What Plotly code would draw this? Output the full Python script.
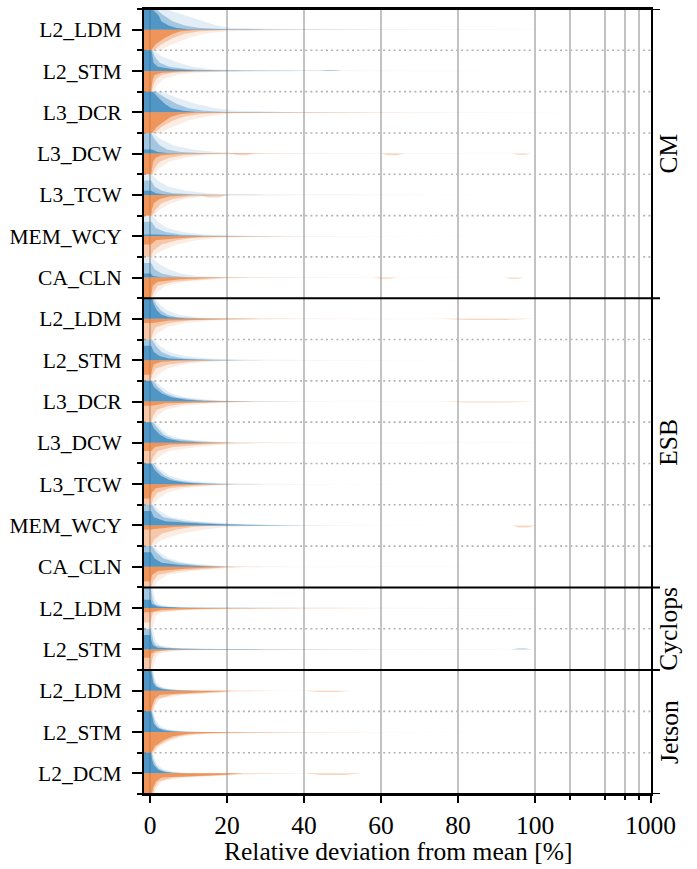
import math
import plotly.graph_objects as go

# ---------------------------------------------------------------------------
# Benchmarks (rows, top to bottom) and the platform group each belongs to
# ---------------------------------------------------------------------------
GROUPS = ["CM", "ESB", "Cyclops", "Jetson"]
GROUP_BENCHMARKS = [
    ["L2_LDM", "L2_STM", "L3_DCR", "L3_DCW", "L3_TCW", "MEM_WCY", "CA_CLN"],
    ["L2_LDM", "L2_STM", "L3_DCR", "L3_DCW", "L3_TCW", "MEM_WCY", "CA_CLN"],
    ["L2_LDM", "L2_STM"],
    ["L2_LDM", "L2_STM", "L2_DCM"],
]

# Density levels (fraction of the half-row height) at which each layer's
# outline is recorded; the last column is where the thin tail ends.
LEVELS = [1.0, 0.7, 0.4, 0.2, 0.08, 0.02, 0.0]

# Deviation [%] at which each layer's outline crosses LEVELS (None = never
# reaches that level). One row per benchmark, in plotting order.
BLUE_LIGHT = [
    [3.9, 8.7, 13.9, 17.3, 21, 35, 130],
    [1, 3, 7.5, 11, 16, 25, 120],
    [3, 7, 12, 17, 22, 35, 150],
    [0.8, 2.8, 6, 11, 17, 25, 110],
    [0.5, 2, 4.8, 9.5, 15, 22, 90],
    [0.6, 2, 4.5, 8.5, 14, 22, 60],
    [0.5, 2, 4.8, 8, 12, 20, 60],
    [1.2, 2.5, 4.5, 7.5, 12, 20, 60],
    [1, 2.5, 5, 9, 15, 24, 60],
    [1.2, 3, 5.5, 9, 15, 22, 50],
    [1.2, 2.8, 4.5, 8, 15, 22, 50],
    [1.2, 2.8, 5, 9, 15, 22, 50],
    [1, 2.5, 5.5, 12, 22, 35, 60],
    [1, 2.4, 5, 9, 15, 20, 40],
    [0.6, 0.9, 1.3, 2.2, 5, 15, 120],
    [0.6, 1, 1.5, 2.5, 6, 18, 130],
    [0.8, 1.1, 1.6, 2.8, 5, 10, 20],
    [0.8, 1.2, 2, 3.5, 6, 10, 18],
    [0.8, 1.2, 2, 3.5, 6, 10, 18],
]
BLUE_MID = [
    [1.5, 3.5, 6, 9, 13, 20, 60],
    [0.6, 1.2, 2.5, 5, 10, 18, 50],
    [1.5, 4, 7, 10, 14, 20, 60],
    [0.3, 1.2, 2.5, 4.5, 8, 14, 40],
    [None, 0.3, 1.2, 3, 6, 12, 30],
    [None, 0.4, 1.5, 4, 8, 14, 40],
    [None, 0.3, 1.2, 3, 6, 10, 30],
    [0.8, 1.6, 2.8, 4.5, 7, 14, 40],
    [0.5, 1.5, 3, 5.5, 9, 16, 30],
    [0.8, 2, 4, 7, 12, 18, 40],
    [0.8, 2, 3.5, 6, 12, 18, 30],
    [0.8, 2, 3.8, 6.5, 11, 18, 30],
    [0.5, 1.5, 3.5, 9, 18, 30, 45],
    [0.5, 1.6, 3.5, 7, 12, 17, 22],
    [0.2, 0.4, 0.7, 1.2, 3, 10, 60],
    [0.2, 0.5, 0.9, 1.5, 4, 14, 60],
    [0.5, 0.8, 1.2, 2, 4, 8, 15],
    [0.5, 0.9, 1.5, 2.5, 4.5, 8, 14],
    [0.5, 0.8, 1.5, 2.5, 4.5, 8, 14],
]
BLUE_DARK = [
    [0.5, 2.2, 3.0, 4.8, 6.9, 10, 30],
    [0.4, 0.6, 0.9, 2, 6, 12, 50],
    [0.8, 2.2, 3.9, 5.6, 8.7, 12, 40],
    [None, None, None, 0.5, 2, 5, 20],
    [None, None, None, 0.3, 1.5, 4, 15],
    [None, None, None, None, 2, 8, 25],
    [None, None, None, 0.2, 0.8, 3, 15],
    [0.5, 1, 1.8, 3, 5, 10, 30],
    [None, 0.3, 1, 2.5, 5, 12, 25],
    [0.3, 1, 3, 5.5, 9.5, 14, 30],
    [0.3, 1, 2.5, 4.5, 8, 14, 22],
    [0.3, 1.2, 2.8, 5, 9, 14, 22],
    [None, 0.3, 1, 4, 14, 25, 40],
    [None, 0.3, 1.2, 3, 8, 14, 20],
    [None, None, 0.2, 0.5, 2, 8, 40],
    [None, 0.1, 0.4, 0.8, 2, 8, 30],
    [0.3, 0.5, 0.8, 1.5, 3, 6, 12],
    [0.3, 0.6, 1, 2, 3.5, 6, 10],
    [0.3, 0.5, 1, 2, 3.5, 6, 10],
]
ORANGE_LIGHT = [
    [2.5, 6, 10, 14, 20, 35, 300],
    [1, 1.8, 3.5, 7, 12, 20, 100],
    [2.5, 6, 10, 15, 20, 30, 250],
    [1, 2.5, 5, 9, 14, 22, 100],
    [1, 2.5, 5.5, 9, 14, 20, 80],
    [0.8, 3, 7, 12, 18, 28, 100],
    [0.8, 2, 4, 9, 17, 22, 100],
    [0.8, 2, 4.5, 9, 16, 28, 110],
    [0.8, 2.2, 4.5, 9, 15, 24, 100],
    [0.8, 2, 4, 9, 16, 26, 150],
    [0.8, 2.2, 5, 12, 20, 30, 130],
    [0.8, 2.2, 4.5, 9, 16, 24, 110],
    [1, 3, 8, 14, 20, 30, 110],
    [0.8, 2, 4.5, 11, 19, 25, 100],
    [0.7, 1, 1.5, 3, 12, 30, 130],
    [0.7, 1, 1.5, 2.5, 6, 16, 130],
    [0.9, 1.5, 2.5, 9, 20, 30, 62],
    [1, 2.5, 5.5, 9, 15, 35, 120],
    [1.2, 1.8, 3, 9, 22, 30, 55],
]
ORANGE_MID = [
    [1, 3, 6, 9, 13, 20, 60],
    [0.5, 0.8, 1.5, 3, 6, 12, 40],
    [1.2, 3, 6, 9, 13, 20, 80],
    [0.6, 1.2, 2.5, 5, 9, 15, 45],
    [0.6, 1.5, 3, 6, 10, 16, 40],
    [0.3, 0.8, 3, 7, 11, 18, 50],
    [0.4, 1, 2, 6, 14, 19, 40],
    [0.3, 0.7, 1.5, 5, 10, 22, 40],
    [0.2, 0.6, 1.5, 5, 11, 17, 30],
    [0.3, 0.8, 1.8, 5, 10, 22, 40],
    [0.3, 0.8, 2, 6, 14, 22, 40],
    [0.3, 0.8, 2, 5, 12, 20, 30],
    [0.3, 1, 3, 7, 11, 16, 30],
    [0.3, 0.8, 2, 7, 16, 20, 30],
    [None, 0.2, 0.5, 1, 8, 22, 60],
    [0.1, 0.4, 0.7, 1.2, 3, 10, 50],
    [0.6, 1, 1.8, 6, 18, 21, 35],
    [0.7, 1.8, 4.5, 7.5, 12, 25, 60],
    [0.8, 1.2, 2.2, 6, 20, 24, 40],
]
ORANGE_DARK = [
    [0.3, 1.5, 3.8, 6, 8, 12, 40],
    [0.3, 0.5, 0.7, 1.2, 3, 8, 25],
    [0.5, 1.8, 4, 5.6, 8, 12, 60],
    [0.3, 0.5, 0.8, 1.5, 3, 8, 30],
    [0.3, 0.5, 1, 2.5, 5, 10, 22],
    [None, None, 0.3, 1.5, 8, 14, 35],
    [0.2, 0.4, 0.7, 2, 8, 16, 25],
    [None, None, None, 0.5, 5, 20, 28],
    [None, 0.3, 0.6, 1, 3, 8, 20],
    [None, None, None, 0.5, 4, 18, 26],
    [None, None, 0.3, 1.3, 5, 15, 22],
    [None, 0.2, 0.5, 1.5, 6, 14, 22],
    [None, None, None, 0.3, 6, 12, 20],
    [None, 0.2, 0.5, 2, 10, 18, 22],
    [None, None, None, 0.2, 3, 18, 40],
    [None, None, 0.1, 0.3, 1.5, 6, 25],
    [0.3, 0.6, 1.2, 2.5, 14, 20, 22],
    [0.4, 1.2, 3.5, 6, 10, 20, 40],
    [0.5, 0.8, 1.5, 3, 18, 22, 24],
]

# Isolated clusters far out in the tails: (row, side, from %, to %, height)
TAIL_CLUSTERS = [
    (1, "upper", 44, 50, 0.05),
    (3, "lower", 21, 27, 0.08),
    (3, "lower", 60, 66, 0.08),
    (3, "lower", 94, 99, 0.06),
    (4, "lower", 13, 20, 0.12),
    (6, "lower", 58, 64, 0.06),
    (6, "lower", 92, 97, 0.06),
    (7, "lower", 75, 100, 0.05),
    (9, "lower", 75, 100, 0.05),
    (12, "lower", 94, 100, 0.10),
    (15, "upper", 94, 99, 0.06),
    (16, "lower", 40, 52, 0.06),
    (18, "lower", 40, 55, 0.08),
]

X_MAJOR = [0, 20, 40, 60, 80, 100, 1000]
X_MINOR = [200, 400, 600, 800]

# ---------------------------------------------------------------------------
# Styling
# ---------------------------------------------------------------------------
FONT = "Liberation Serif"
BLUE = (31, 119, 180)
ORANGE = (232, 118, 45)
LAYER_ALPHA = {"light": 0.13, "mid": 0.32, "dark": 0.62}
X_LEFT = -1.56


def xscale(v):
    """Linear up to 100 %, logarithmic (30 units per decade) above."""
    if v <= 100:
        return v
    return 100 + 30 * math.log10(v / 100)


def rgba(c, a):
    return f"rgba({c[0]},{c[1]},{c[2]},{a})"


row_labels = [b for grp in GROUP_BENCHMARKS for b in grp]
n_rows = len(row_labels)

fig = go.Figure()


def add_layer(row, outline, color, alpha, sign):
    pts = [(x, lv) for x, lv in zip(outline, LEVELS) if x is not None]
    xs = [X_LEFT, X_LEFT] + [xscale(x) for x, _ in pts] + [X_LEFT]
    hs = [0.0, pts[0][1]] + [lv for _, lv in pts] + [0.0]
    ys = [row + sign * 0.5 * h for h in hs]
    fig.add_trace(go.Scatter(
        x=xs, y=ys, mode="lines", fill="toself",
        fillcolor=rgba(color, alpha), line=dict(width=0),
        hoverinfo="skip", showlegend=False,
    ))


for r in range(n_rows):
    for name, blue_tab, orange_tab in (
        ("light", BLUE_LIGHT, ORANGE_LIGHT),
        ("mid", BLUE_MID, ORANGE_MID),
        ("dark", BLUE_DARK, ORANGE_DARK),
    ):
        add_layer(r, blue_tab[r], BLUE, LAYER_ALPHA[name], -1)
        add_layer(r, orange_tab[r], ORANGE, LAYER_ALPHA[name], +1)

for row, side, x0, x1, h in TAIL_CLUSTERS:
    sign = -1 if side == "upper" else 1
    color = BLUE if side == "upper" else ORANGE
    w = x1 - x0
    xs = [xscale(x0), xscale(x0 + 0.3 * w), xscale(x1 - 0.3 * w), xscale(x1)]
    ys = [row, row + sign * 0.5 * h, row + sign * 0.5 * h, row]
    fig.add_trace(go.Scatter(
        x=xs, y=ys, mode="lines", fill="toself",
        fillcolor=rgba(color, 0.3), line=dict(width=0),
        hoverinfo="skip", showlegend=False,
    ))

# group boundaries and row separators
group_edges = [-0.5]
for grp in GROUP_BENCHMARKS:
    group_edges.append(group_edges[-1] + len(grp))
shapes = []
for k in range(n_rows - 1):
    yb = k + 0.5
    if yb in group_edges:
        continue
    shapes.append(dict(type="line", xref="paper", yref="y", x0=0, x1=1,
                       y0=yb, y1=yb, layer="below",
                       line=dict(color="#b3b3b3", width=1.6, dash="2px,3.2px")))
for yb in group_edges:
    shapes.append(dict(type="line", xref="paper", yref="y", x0=0,
                       x1=1 + 9 / 507, y0=yb, y1=yb, layer="above",
                       line=dict(color="black", width=2)))

annotations = []
for i, g in enumerate(GROUPS):
    yc = (group_edges[i] + group_edges[i + 1]) / 2
    annotations.append(dict(
        text=g, xref="paper", yref="y", x=1, y=yc, xshift=18,
        xanchor="center", yanchor="middle", textangle=-90, showarrow=False,
        font=dict(family=FONT, size=25.5, color="black"),
    ))
annotations.append(dict(
    text="Relative deviation from mean [%]", xref="paper", yref="paper",
    x=0.5, y=0, yshift=-57, xanchor="center", yanchor="middle",
    showarrow=False, font=dict(family=FONT, size=25.5, color="black"),
))

fig.update_layout(
    width=697, height=869,
    margin=dict(l=144, r=46, t=7, b=75),
    plot_bgcolor="white", paper_bgcolor="white",
    font=dict(family=FONT, color="black"),
    showlegend=False, shapes=shapes, annotations=annotations,
    xaxis=dict(
        range=[X_LEFT, 130.1],
        tickvals=[xscale(v) for v in X_MAJOR],
        ticktext=[str(v) for v in X_MAJOR],
        ticks="outside", ticklen=7, tickwidth=2, tickcolor="black",
        tickfont=dict(family=FONT, size=25.5, color="black"),
        showgrid=True, gridcolor="#c2c2c2", gridwidth=1.6,
        zeroline=False, showline=True, linecolor="black", linewidth=2,
        mirror=True,
        minor=dict(tickvals=[xscale(v) for v in X_MINOR], ticks="outside",
                   ticklen=4, tickwidth=1.5, tickcolor="black",
                   showgrid=True, gridcolor="#c2c2c2", gridwidth=1.6),
    ),
    yaxis=dict(
        range=[n_rows - 0.5, -0.5],
        tickvals=list(range(n_rows)), ticktext=row_labels,
        ticks="outside", ticklen=10, tickwidth=2, tickcolor="black",
        tickfont=dict(family=FONT, size=21.5, color="black"),
        ticklabelstandoff=6,
        showgrid=False, zeroline=False,
        showline=True, linecolor="black", linewidth=2, mirror=True,
        minor=dict(tickvals=[k - 0.5 for k in range(n_rows + 1)],
                   ticks="outside", ticklen=5, tickwidth=1.5,
                   tickcolor="black", showgrid=False),
    ),
)

fig.write_html("out.html")
